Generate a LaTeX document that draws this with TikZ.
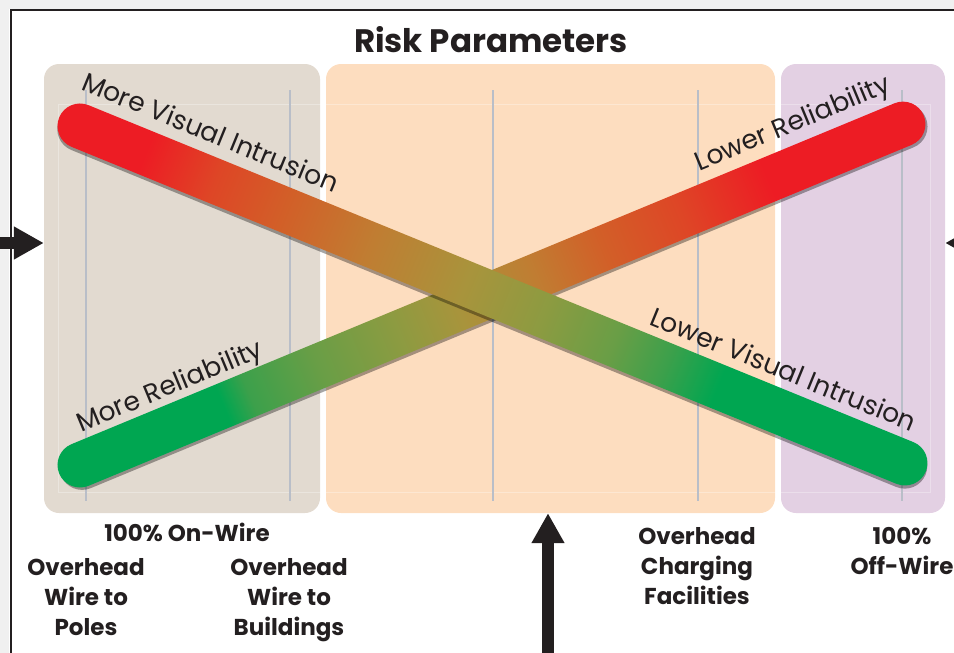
\documentclass[tikz,border=0pt]{standalone}
\usepackage{fontspec}
\setmainfont{Poppins}
\usetikzlibrary{arrows.meta, positioning}

\definecolor{panelone}{RGB}{226,218,208}
\definecolor{paneltwo}{RGB}{253,221,191}
\definecolor{panelthree}{RGB}{227,208,227}
\definecolor{gridgray}{RGB}{185,190,200}
\definecolor{inkblack}{RGB}{35,31,32}
\definecolor{barred}{RGB}{237,28,36}
\definecolor{barredorange}{RGB}{222,70,38}
\definecolor{barorange}{RGB}{210,95,40}
\definecolor{barbrown}{RGB}{192,125,50}
\definecolor{barolive}{RGB}{168,148,60}
\definecolor{barkhaki}{RGB}{140,155,65}
\definecolor{barmoss}{RGB}{105,158,70}
\definecolor{barleaf}{RGB}{60,160,75}
\definecolor{bargreen}{RGB}{0,166,81}

\pgfdeclarehorizontalshading{fallshade}{100bp}{color(0bp)=(barred); color(30bp)=(barred);
  color(34bp)=(barredorange); color(38bp)=(barorange); color(43bp)=(barbrown);
  color(48.5bp)=(barolive); color(53bp)=(barkhaki); color(57bp)=(barmoss);
  color(60bp)=(barleaf); color(63bp)=(bargreen); color(100bp)=(bargreen)}
\pgfdeclarehorizontalshading{riseshade}{100bp}{color(0bp)=(bargreen); color(34.5bp)=(bargreen);
  color(36bp)=(barleaf); color(40bp)=(barmoss); color(44.5bp)=(barkhaki);
  color(48bp)=(barolive); color(52.5bp)=(barbrown); color(56.5bp)=(barorange);
  color(61bp)=(barredorange); color(66bp)=(barred); color(100bp)=(barred)}

\begin{document}
\begin{tikzpicture}[x=1pt, y=-1pt,
  panel/.style={rectangle, rounded corners=15pt, minimum height=449pt, inner sep=0pt},
  gridline/.style={gridgray, line width=1.5pt},
  barlabel/.style={font=\fontsize{26.5}{30}\selectfont, text=inkblack, anchor=base, inner sep=0pt},
  footlabel/.style={font=\bfseries\fontsize{23}{30}\selectfont, text=inkblack, align=center, anchor=north, inner sep=0pt},
  bigarrow/.style={inkblack, line width=12pt, -{Triangle[length=30pt, width=31pt]}}]
\useasboundingbox (0,0) rectangle (954,653);

% Page edge
\fill[gray!12] (0,0) rectangle (954,9);
\fill[gray!12] (0,0) rectangle (9,653);
\draw[inkblack, line width=2pt] (11,653) -- (11,10) -- (954,10);

% Columns
\node[panel, fill=panelone, minimum width=276pt] (onwire) at (182,288.5) {};
\node[panel, fill=paneltwo, minimum width=449pt] (charging) at (550.5,288.5) {};
\node[panel, fill=panelthree, minimum width=164pt] (offwire) at (863,288.5) {};

% Plot frame and grid
\draw[white, opacity=0.3, line width=1pt] (58,104) rectangle (930,492);
\foreach \gx in {86,290,493,698,902}
  \draw[gridline] (\gx,90) -- (\gx,501);

% Rising bar (green to red)
\begin{scope}[transform canvas={shift={(80,465)}, rotate=22.5}]
  \fill[black, opacity=0.35, rounded corners=22.5pt] (-21.5,-19.5) rectangle (914.3,25.5);
  \shade[shading=riseshade, rounded corners=22.5pt] (-22.5,-22.5) rectangle (913.3,22.5);
\end{scope}

% Falling bar (red to green)
\begin{scope}[transform canvas={shift={(80,126)}, rotate=-22.22}]
  \fill[black, opacity=0.35, rounded corners=22.5pt] (-21.5,-19.5) rectangle (914.7,25.5);
  \shade[shading=fallshade, rounded corners=22.5pt] (-22.5,-22.5) rectangle (913.7,22.5);
\end{scope}

% Bar labels
\node[barlabel, rotate=-22.22] (moreintrusion) at (207,141) {More Visual Intrusion};
\node[barlabel, rotate=-22.22] (lessintrusion) at (780,378) {Lower Visual Intrusion};
\node[barlabel, rotate=22.5] (morereliable) at (173,394) {More Reliability};
\node[barlabel, rotate=22.5] (lessreliable) at (796,131) {Lower Reliability};

% Title
\node[font=\bfseries\fontsize{32.5}{36}\selectfont, text=inkblack, anchor=base] (title) at (491,52) {Risk Parameters};

% Labels under the columns
\node[footlabel, below=10pt of onwire, xshift=5pt] (onwirelabel) {100\% On-Wire};
\node[footlabel] (poles) at (86,558) {Overhead\\Wire to\\Poles};
\node[footlabel] (buildings) at (289,558) {Overhead\\Wire to\\Buildings};
\node[footlabel] (facilities) at (697,527) {Overhead\\Charging\\Facilities};
\node[footlabel] (offwirelabel) at (902,527) {100\%\\Off-Wire};

% Arrows
\coordinate (leftstart) at (0,243);
\coordinate (rightstart) at (990,243);
\coordinate (bottomstart) at (548,653);
\draw[bigarrow] (leftstart) -- (leftstart -| onwire.west);
\draw[bigarrow] (rightstart) -- (rightstart -| offwire.east);
\draw[bigarrow] (bottomstart) -- (bottomstart |- charging.south);
\end{tikzpicture}
\end{document}
